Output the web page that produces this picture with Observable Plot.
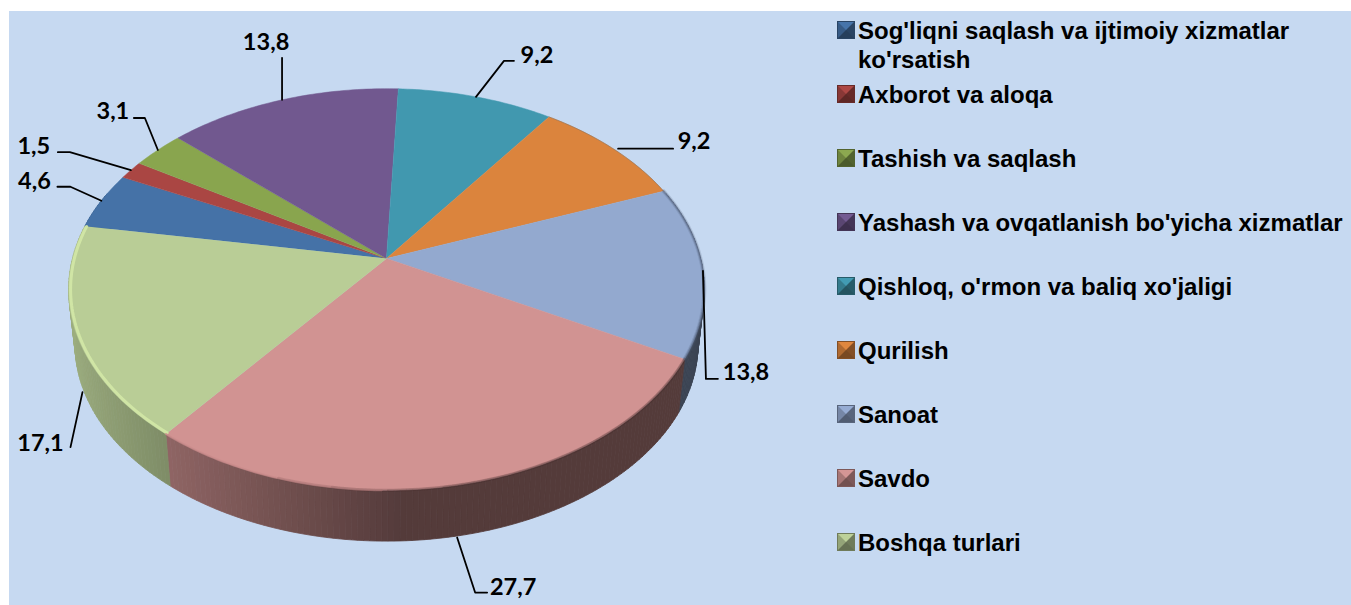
<!DOCTYPE html>
<html><head><meta charset="utf-8">
<script src="https://cdn.jsdelivr.net/npm/d3@7"></script>
<script src="https://cdn.jsdelivr.net/npm/@observablehq/plot@0.6"></script>
<style>
html,body{margin:0;padding:0;background:#fff;width:1351px;height:605px;overflow:hidden}
#panel{position:absolute;left:9px;top:11px;width:1342px;height:594px;background:#c6d9f1}
#chart{position:absolute;left:0;top:0}
#chart svg{background:transparent;display:block}
#legend{position:absolute;left:0;top:0;font:bold 24px "Liberation Sans",Arial,sans-serif;color:#000}
.item{position:absolute;left:858px;line-height:29px;white-space:pre}
.sw{position:absolute;left:837px;width:0;height:0;border-style:solid;border-width:9px;outline:1px solid;outline-offset:-1px}
</style></head><body>
<div id="panel"></div><div id="chart"></div><div id="legend"></div>
<script>
const categories = ["Sog'liqni saqlash va ijtimoiy xizmatlar\nko'rsatish","Axborot va aloqa","Tashish va saqlash","Yashash va ovqatlanish bo'yicha xizmatlar","Qishloq, o'rmon va baliq xo'jaligi","Qurilish","Sanoat","Savdo","Boshqa turlari"];
const values = [4.6,1.5,3.1,13.8,9.2,9.2,13.8,27.7,17.1];
const labels = ["4,6","1,5","3,1","13,8","9,2","9,2","13,8","27,7","17,1"];
const colors = ["#4572a7","#aa4643","#89a54e","#71588f","#4198af","#db843d","#93a9cf","#d19392","#b9cd96"];

// layout of the tilted pie
const W=1351,H=605, cx=386, cy=258, ax=314, by=196, tilt=0.1543, depth=55.5, shrink=0.98, startDeg=279.7;
const ux=p=>p/ax, uy=p=>p/by;
const proj=(t,z=0)=>{const X=Math.sin(t),Y=-Math.cos(t),s=z?shrink:1,d=1-tilt*Y;
  return {u:s*X/d, v:s*Y/d+(z?uy(depth):0), X, Y};};
const pie=d3.pie().sort(null).value(d=>d).startAngle(startDeg*Math.PI/180).endAngle((startDeg+360)*Math.PI/180)(values);

const facePts=[],sidePts=[],rims=[];
pie.forEach((a,i)=>{
  const n=Math.max(4,Math.round((a.endAngle-a.startAngle)*60));
  const ts=d3.range(n+1).map(k=>a.startAngle+(a.endAngle-a.startAngle)*k/n);
  facePts.push({z:"t"+i,color:colors[i],u:0,v:0});
  ts.forEach(t=>{const p=proj(t);facePts.push({z:"t"+i,color:colors[i],u:p.u,v:p.v});});
  ts.slice(1).forEach((t,k)=>{
    const t0=ts[k],m=(t0+t)/2,X=Math.sin(m),Y=-Math.cos(m);
    if(Y<-0.35) return;
    const f=X<0.05?0.42-0.43*X:0.40;
    const c=d3.rgb(colors[i]);const col=d3.rgb(c.r*f,c.g*f,c.b*f).formatHex();
    const id="s"+i+"_"+k;
    [proj(t0),proj(t),proj(t,1),proj(t0,1),proj(t0)].forEach(p=>sidePts.push({z:id,color:col,u:p.u,v:p.v}));
  });
  ts.forEach(t=>{const p=proj(t);rims.push({z:i,u:p.u,v:p.v,X:p.X,Y:p.Y});});
});

// leader lines: anchor on the pie rim at the slice's mid angle, then offsets
const leaders=[
 {i:0,z:0,off:[[-31,-14],[-44,-14]],dx:-23,dy:-5},
 {i:1,z:0,off:[[-61,-18],[-73,-18]],dx:-24,dy:-6},
 {i:2,z:0,off:[[-13,-32],[-24,-32]],dx:-21,dy:-7},
 {i:3,z:0,off:[[0,-42]],dx:-16,dy:-15},
 {i:4,z:0,off:[[28,-36],[38,-36]],dx:23,dy:-5},
 {i:5,z:0,s:[5,0],off:[[60,0]],dx:21,dy:-7},
 {i:6,z:0,off:[[3,108],[15,108]],dx:28,dy:-6},
 {i:7,z:1,s:[-3,2],off:[[15,57],[27,57]],dx:26,dy:-5},
 {i:8,z:1,s:[0,5],off:[[-12,60]],dx:-30,dy:-4},
];
const lead=[],txt=[];
leaders.forEach((l,n)=>{
  const a=pie[l.i],t=(a.startAngle+a.endAngle)/2,p=proj(t,l.z),s=l.s||[0,0];
  lead.push({z:n,u:p.u+ux(s[0]),v:p.v+uy(s[1])});
  l.off.forEach(o=>lead.push({z:n,u:p.u+ux(o[0]),v:p.v+uy(o[1])}));
  const e=l.off[l.off.length-1];
  txt.push({u:p.u+ux(e[0]+l.dx),v:p.v+uy(e[1]+l.dy),label:labels[l.i]});
});

const rimOf=(i,c,w,o,f=()=>true)=>Plot.line(rims.filter(d=>d.z===i&&f(d)),{x:"u",y:"v",stroke:c,strokeWidth:w,strokeOpacity:o});
const inset=(d,r)=>({...d,u:d.u*r,v:d.v*r});
const plot=Plot.plot({
  width:W,height:H,margin:0,
  x:{domain:[-cx/ax,(W-cx)/ax],range:[0,W],axis:null},
  y:{domain:[-cy/by,(H-cy)/by],range:[0,H],axis:null},
  color:{type:"identity"},
  style:{background:"transparent",overflow:"visible"},
  marks:[
    Plot.line(sidePts,{x:"u",y:"v",z:"z",fill:"color",stroke:"color",strokeWidth:0.8}),
    Plot.line(facePts,{x:"u",y:"v",z:"z",fill:"color",stroke:"color",strokeWidth:0.5}),
    Plot.line(rims.filter(d=>d.z===8).map(d=>inset(d,0.994)),{x:"u",y:"v",stroke:"#d3e8a6",strokeWidth:3,strokeOpacity:0.9}),
    rimOf(7,"#c98a8a",2,0.7,d=>d.X<0),
    rimOf(7,"#4a3030",3,0.12,d=>d.X>-0.3),
    rimOf(7,"#4a3030",3,0.12,d=>d.X>-0.15),
    rimOf(7,"#4a3030",2,0.14,d=>d.X>0),
    rimOf(7,"#4a3030",2,0.14,d=>d.X>0.15),
    rimOf(6,"#4f5d78",4,0.2,d=>d.Y>-0.6),
    rimOf(6,"#4f5d78",2,0.45,d=>d.Y>-0.6),
    rimOf(5,"#7f6a58",1,0.5),
    Plot.line(lead,{x:"u",y:"v",z:"z",stroke:"#000",strokeWidth:1.8}),
    Plot.text(txt,{x:"u",y:"v",text:"label",fontFamily:"Lato",fontWeight:"bold",fontSize:23.5,fill:"#000"})
  ]
});
document.getElementById("chart").append(plot);

// legend
const rowY=[31,95,159,223,287,351,415,479,543];
const shade=(c,f)=>{const r=d3.rgb(c);return d3.rgb(Math.min(255,r.r*f),Math.min(255,r.g*f),Math.min(255,r.b*f)).formatHex();};
const lg=document.getElementById("legend");
categories.forEach((c,i)=>{
  const s=document.createElement("div");s.className="sw";
  s.style.top=(rowY[i]-10)+"px";
  s.style.borderColor=`${shade(colors[i],1.02)} ${shade(colors[i],0.6)} ${shade(colors[i],0.55)} ${shade(colors[i],0.8)}`;
  s.style.outlineColor=shade(colors[i],0.6);
  lg.append(s);
  const t=document.createElement("div");t.className="item";t.textContent=c;
  t.style.top=(rowY[i]-15)+"px";
  lg.append(t);
});
</script></body></html>
